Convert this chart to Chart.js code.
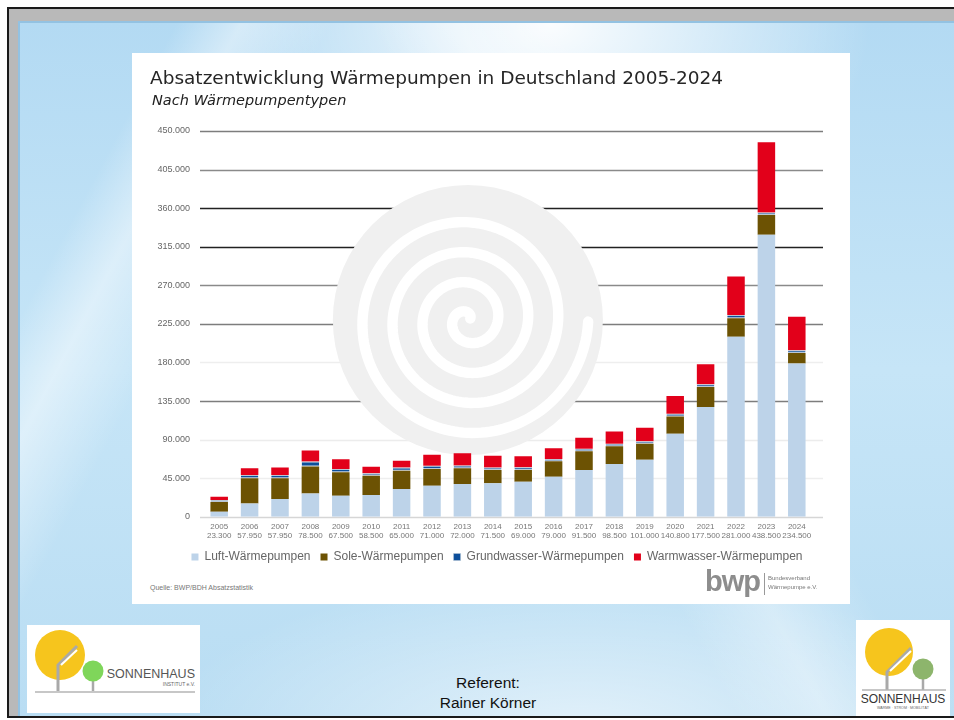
<!DOCTYPE html>
<html><head><meta charset="utf-8">
<script src="https://cdn.jsdelivr.net/npm/chart.js@4.4.1/dist/chart.umd.min.js"></script>
<style>
html,body{margin:0;padding:0;width:954px;height:720px;overflow:hidden;background:#fff;font-family:"Liberation Sans",Arial,sans-serif;}
#frame{position:absolute;left:7px;top:7px;width:947px;height:711px;box-sizing:border-box;border:2px solid #1a1a1a;border-right:none;background:#b9b9b9;}
#slide{position:absolute;left:9px;top:12px;right:0;bottom:0;border-top:2px solid #93c2e2;border-left:2px solid #93c2e2;
 background:
  linear-gradient(118deg, rgba(255,255,255,0) 12%, rgba(255,255,255,0.45) 17%, rgba(255,255,255,0) 24%),
  linear-gradient(62deg, rgba(255,255,255,0) 55%, rgba(255,255,255,0.35) 62%, rgba(255,255,255,0) 70%),
  radial-gradient(ellipse 320px 220px at 530px 0px, rgba(255,255,255,0.95), rgba(255,255,255,0)),
  radial-gradient(ellipse 420px 160px at 560px 710px, rgba(255,255,255,0.6), rgba(255,255,255,0)),
  linear-gradient(180deg, #b3daf3 0%, #c6e5f7 50%, #b9ddf3 100%);}
#panel{position:absolute;left:132px;top:53px;width:718px;height:551px;background:#fff;}
#chartBox{position:absolute;left:0;top:0;width:730px;height:520px;}
#title{position:absolute;left:18px;top:14px;font-family:"DejaVu Sans",sans-serif;font-size:18.5px;color:#262626;white-space:nowrap;}
#subtitle{position:absolute;left:20px;top:39px;font-family:"DejaVu Sans",sans-serif;font-style:italic;font-size:14.5px;color:#222;white-space:nowrap;}
#source{position:absolute;left:18px;top:531px;font-size:7px;color:#777;white-space:nowrap;}
#bwp{position:absolute;left:573px;top:512px;font-family:"Liberation Sans",sans-serif;font-weight:bold;font-size:29px;color:#8d8d8d;letter-spacing:-1px;white-space:nowrap;}
#bwpline{position:absolute;left:632px;top:520px;width:1px;height:22px;background:#999;}
#bwptext{position:absolute;left:636px;top:521px;font-size:6px;line-height:9px;color:#777;white-space:nowrap;}
#ref{position:absolute;left:388px;top:673px;width:200px;text-align:center;font-size:15.5px;line-height:20px;color:#111;}
.logo{position:absolute;background:#fff;}
</style></head>
<body>
<div id="frame"><div id="slide"></div></div>
<div id="panel">
  <div id="chartBox"><canvas id="c"></canvas></div>
  <div id="title">Absatzentwicklung Wärmepumpen in Deutschland 2005-2024</div>
  <div id="subtitle">Nach Wärmepumpentypen</div>
  <div id="source">Quelle: BWP/BDH Absatzstatistik</div>
  <div id="bwp">bwp</div>
  <div id="bwpline"></div>
  <div id="bwptext">Bundesverband<br>Wärmepumpe e.V.</div>
</div>
<svg class="logo" style="left:27px;top:625px" width="173" height="88" viewBox="0 0 173 88">
  <rect width="173" height="88" fill="#fff"/>
  <circle cx="33" cy="30" r="25" fill="#f6c51d"/>
  <path d="M31 66 L31 40 L50 21" stroke="#a9a9a9" stroke-width="3" fill="none"/>
  <path d="M34 40 L50 25" stroke="#fff" stroke-width="2" fill="none"/>
  <line x1="66" y1="50" x2="66" y2="66" stroke="#a9a9a9" stroke-width="2.5"/>
  <circle cx="66" cy="46" r="10.5" fill="#7fd65a"/>
  <line x1="8" y1="67" x2="168" y2="67" stroke="#b5b5b5" stroke-width="1.5"/>
  <text x="168" y="53" text-anchor="end" font-family="Liberation Sans Narrow, Liberation Sans, sans-serif" font-size="12.5" fill="#555">SONNENHAUS</text>
  <text x="168" y="61" text-anchor="end" font-family="Liberation Sans, sans-serif" font-size="5" fill="#666">INSTITUT e.V.</text>
</svg>
<svg class="logo" style="left:856px;top:620px" width="94" height="96" viewBox="0 0 94 96">
  <rect width="94" height="96" fill="#fff"/>
  <circle cx="33" cy="32" r="24" fill="#f6c51d"/>
  <path d="M31 70 L31 52 L55 28" stroke="#a9a9a9" stroke-width="3" fill="none"/>
  <path d="M34 51 L55 31" stroke="#fff" stroke-width="2" fill="none"/>
  <line x1="67" y1="55" x2="67" y2="70" stroke="#a9a9a9" stroke-width="2.5"/>
  <circle cx="67" cy="49" r="10.5" fill="#8db56c"/>
  <line x1="6" y1="70" x2="90" y2="70" stroke="#b5b5b5" stroke-width="1.5"/>
  <text x="47" y="83" text-anchor="middle" font-family="Liberation Sans Narrow, Liberation Sans, sans-serif" font-size="12" fill="#333">SONNENHAUS</text>
  <text x="47" y="89" text-anchor="middle" font-family="Liberation Sans, sans-serif" font-size="3.6" fill="#666">WÄRME · STROM · MOBILITÄT</text>
</svg>
<div id="ref">Referent:<br>Rainer Körner</div>
<script>
// ---- data ----
const years = ['2005','2006','2007','2008','2009','2010','2011','2012','2013','2014','2015','2016','2017','2018','2019','2020','2021','2022','2023','2024'];
const totals = ['23.300','57.950','57.950','78.500','67.500','58.500','65.000','71.000','72.000','71.500','69.000','79.000','91.500','98.500','101.000','140.800','177.500','281.000','438.500','234.500'];
const luft = [5800,15600,20700,27300,24600,25400,32500,36300,38300,39000,41000,46800,54700,61700,66400,96800,128000,210000,329000,178800];
const sole = [11500,29300,24200,31300,27300,22600,21100,19600,18300,15700,13700,17900,21800,20600,18700,20300,23400,21500,23000,12400];
const grundwasser = [2300,4000,4000,5900,4000,2700,3900,3500,3100,2700,3000,2800,2800,2800,3000,3100,3100,3900,3000,3100];
const warmwasser = [3700,7800,8600,12900,11300,7800,7800,12900,14400,13700,12900,12400,12900,14400,15700,20600,23400,44800,82000,39000];
const seriesNames = ['Luft-Wärmepumpen','Sole-Wärmepumpen','Grundwasser-Wärmepumpen','Warmwasser-Wärmepumpen'];
const yMax = 450000, yStep = 45000;

// ---- styles ----
const colors = ['#bdd3e9','#6c5203','#0d4f9b','#e2001a'];
const gridColors = {0:'#d6d6d6',45000:'#eeeeee',90000:'#ececec',135000:'#7d7d7d',180000:'#eeeeee',225000:'#7d7d7d',270000:'#8a8a8a',315000:'#222',360000:'#222',405000:'#8a8a8a',450000:'#7d7d7d'};
const fmt = v => String(v).replace(/\B(?=(\d{3})+(?!\d))/g,'.');

const decoPlugin = {
  id:'deco',
  beforeDatasetsDraw(chart){
    const {ctx, chartArea:a, scales:{y}} = chart;
    ctx.save();
    y.ticks.forEach(t=>{
      const py = Math.round(y.getPixelForValue(t.value)) + 0.5;
      ctx.strokeStyle = gridColors[t.value] || '#888';
      ctx.lineWidth = 1.5;
      ctx.beginPath(); ctx.moveTo(a.left-4, py); ctx.lineTo(a.right+11, py); ctx.stroke();
    });
    const h = a.bottom - a.top;
    const cx = a.left + 0.434*(a.right-a.left), cy = a.top + 0.49*h, R = 0.35*h;
    ctx.fillStyle = '#f0f0f0';
    ctx.beginPath(); ctx.arc(cx, cy, R, 0, Math.PI*2); ctx.fill();
    ctx.strokeStyle = '#fff'; ctx.lineWidth = 0.027*h; ctx.lineCap = 'round';
    ctx.beginPath();
    const tMax = Math.PI*8, k = 0.312*h/tMax;
    for(let t=0.6; t<=tMax; t+=0.04){
      const r = k*t, ang = -t;
      const px = cx + r*Math.cos(ang), py = cy + r*Math.sin(ang);
      if(t===0.6) ctx.moveTo(px,py); else ctx.lineTo(px,py);
    }
    ctx.stroke();
    ctx.restore();
  }
};

new Chart(document.getElementById('c'), {
  type:'bar',
  data:{
    labels: years.map((y,i)=>[y, totals[i]]),
    datasets:[
      {label:seriesNames[0], data:luft, backgroundColor:colors[0]},
      {label:seriesNames[1], data:sole, backgroundColor:colors[1]},
      {label:seriesNames[2], data:grundwasser, backgroundColor:colors[2], borderColor:'#b9c6d4', borderWidth:{top:1,bottom:1,left:0,right:0}, borderSkipped:false},
      {label:seriesNames[3], data:warmwasser, backgroundColor:colors[3]}
    ]
  },
  options:{
    responsive:true, maintainAspectRatio:false, animation:false,
    layout:{padding:{top:78,right:0,left:0,bottom:0}},
    datasets:{bar:{barPercentage:0.72,categoryPercentage:0.8,borderWidth:0}},
    plugins:{
      tooltip:{enabled:false},
      legend:{position:'bottom',labels:{boxWidth:7,boxHeight:7,padding:10,color:'#666',font:{family:'Liberation Sans',size:12}}}
    },
    scales:{
      x:{stacked:true, grid:{display:false,drawTicks:false}, border:{display:false},
         afterFit(s){s.height -= 5;},
         ticks:{autoSkip:false,maxRotation:0,padding:5,color:'#777',font:{family:'Liberation Sans',size:8,lineHeight:1.2}}},
      y:{stacked:true, min:0, max:yMax, grid:{display:false,drawTicks:false}, border:{display:false},
         afterFit(s){s.width=72;},
         ticks:{stepSize:yStep,padding:14,color:'#666',font:{family:'Liberation Sans',size:9},callback:v=>fmt(v)}},
      spacer:{type:'linear', position:'right', display:true, grid:{display:false,drawTicks:false}, border:{display:false},
         ticks:{display:false}, afterFit(s){s.width=50;}}
    }
  },
  plugins:[decoPlugin]
});
</script>
</body></html>
